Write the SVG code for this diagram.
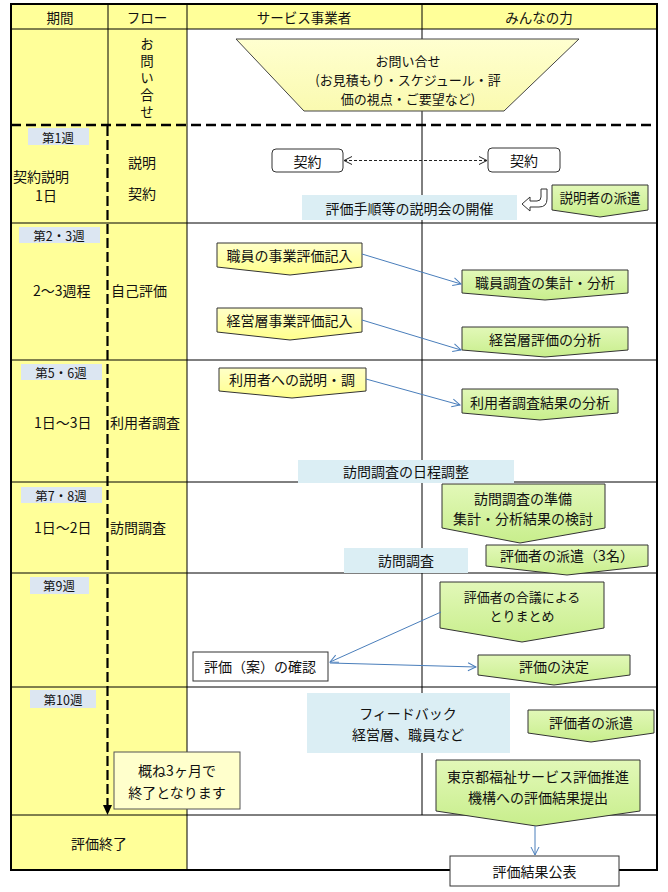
<svg xmlns="http://www.w3.org/2000/svg" width="668" height="892" viewBox="0 0 668 892">
<style>
text{font-family:"Noto Sans CJK JP","Noto Sans",sans-serif;fill:#111;dominant-baseline:central}
.t14{font-size:14px}
.t13{font-size:13.5px}
.t12{font-size:12.5px}
.tm{font-size:13px}
.c{text-anchor:middle}
.grid{stroke:#000;stroke-width:1;fill:none}
.wk{fill:#DCE6F2}
.info{fill:#DBEEF4}
.gp{fill:url(#gg);stroke:#333;stroke-width:1}
.yp{fill:url(#yg);stroke:#333;stroke-width:1}
.wb{fill:#fff;stroke:#333;stroke-width:1}
.conn{stroke:#4A7EBB;stroke-width:1;fill:none}
.vt{writing-mode:vertical-rl;font-size:13.5px;letter-spacing:3.5px}
</style>
<defs>
<linearGradient id="gg" x1="0" y1="0" x2="0" y2="1"><stop offset="0" stop-color="#E2F8B8"/><stop offset="1" stop-color="#C8EE8C"/></linearGradient>
<linearGradient id="yg" x1="0" y1="0" x2="0" y2="1"><stop offset="0" stop-color="#FFFFC8"/><stop offset="1" stop-color="#FFFF8C"/></linearGradient>
<linearGradient id="tg" x1="0" y1="0" x2="0" y2="1"><stop offset="0" stop-color="#FFFFD0"/><stop offset="1" stop-color="#FAFAB0"/></linearGradient>
<marker id="ab" markerWidth="10" markerHeight="10" refX="9" refY="5" orient="auto" markerUnits="userSpaceOnUse"><path d="M1,1 L9,5 L1,9" fill="none" stroke="#4A7EBB" stroke-width="1"/></marker>
<marker id="ak" markerWidth="10" markerHeight="10" refX="9" refY="5" orient="auto-start-reverse" markerUnits="userSpaceOnUse"><path d="M1,1 L9,5 L1,9" fill="none" stroke="#222" stroke-width="1"/></marker>
</defs>

<rect width="668" height="892" fill="#fff"/>

<g id="table">
<rect x="11" y="4" width="646" height="25" fill="#FFFF99"/>
<rect x="11" y="29" width="176" height="841" fill="#FFFF99"/>
<line class="grid" x1="108" y1="4" x2="108" y2="125"/>
<line class="grid" x1="187" y1="4" x2="187" y2="870"/>
<line class="grid" x1="422" y1="4" x2="422" y2="815"/>
<line class="grid" x1="11" y1="29" x2="657" y2="29" stroke-width="1.5"/>
<line x1="11" y1="125" x2="657" y2="125" stroke="#000" stroke-width="2.5" stroke-dasharray="10,5"/>
<line class="grid" x1="11" y1="223" x2="657" y2="223"/>
<line class="grid" x1="11" y1="360" x2="657" y2="360"/>
<line class="grid" x1="11" y1="482" x2="657" y2="482"/>
<line class="grid" x1="11" y1="573" x2="657" y2="573"/>
<line class="grid" x1="11" y1="687" x2="657" y2="687"/>
<line class="grid" x1="11" y1="815" x2="657" y2="815" stroke-width="2"/>
<rect x="11" y="4" width="646" height="866" fill="none" stroke="#000" stroke-width="2"/>
<text class="t13 c" x="60" y="17">期間</text>
<text class="t13 c" x="147" y="17">フロー</text>
<text class="t13 c" x="304" y="17">サービス事業者</text>
<text class="t13 c" x="539" y="17">みんなの力</text>
</g>

<g id="period-labels">
<rect class="wk" x="28" y="128" width="61" height="17"/><text class="t12 c" x="58" y="137">第1週</text>
<rect class="wk" x="19" y="227" width="81" height="16"/><text class="t12 c" x="59" y="235">第2・3週</text>
<rect class="wk" x="21" y="364" width="81" height="16"/><text class="t12 c" x="61" y="372">第5・6週</text>
<rect class="wk" x="21" y="487" width="81" height="16"/><text class="t12 c" x="61" y="495">第7・8週</text>
<rect class="wk" x="30" y="577" width="59" height="17"/><text class="t12 c" x="59" y="585">第9週</text>
<rect class="wk" x="30" y="690" width="66" height="18"/><text class="t12 c" x="63" y="699">第10週</text>
<text class="t14" x="13" y="176">契約説明</text>
<text class="t14 c" x="46" y="195">1日</text>
<text class="t14" x="33" y="290">2～3週程</text>
<text class="t14" x="34" y="422">1日～3日</text>
<text class="t14" x="34" y="527">1日～2日</text>
<text class="t14 c" x="99" y="843">評価終了</text>
</g>

<g id="flow-labels">
<text class="vt" x="147" y="37">お問い合せ</text>
<text class="t14" x="128" y="162">説明</text>
<text class="t14" x="128" y="193">契約</text>
<text class="t14" x="111" y="290">自己評価</text>
<text class="t14" x="110" y="422">利用者調査</text>
<text class="t14" x="110" y="527">訪問調査</text>
</g>

<g id="n-inquiry">
<path d="M236,39 L579,39 L504,111 L304,111 Z" fill="url(#tg)" stroke="#444" stroke-width="1"/>
<text class="tm c"><tspan x="408" y="60">お問い合せ</tspan><tspan x="408" y="79">(お見積もり・スケジュール・評</tspan><tspan x="408" y="98">価の視点・ご要望など)</tspan></text>
</g>

<g id="n-keiyaku1"><rect class="wb" x="272" y="149" width="71" height="23" rx="4"/><text class="t14 c" x="307.5" y="160.5">契約</text></g>
<g id="n-keiyaku2"><rect class="wb" x="488" y="148" width="72" height="24" rx="4"/><text class="t14 c" x="524" y="160">契約</text></g>
<g id="n-setsumeikai"><rect class="info" x="302" y="195" width="215" height="25"/><text class="t14 c" x="409.5" y="207.5">評価手順等の説明会の開催</text></g>
<g id="n-uturn"><path d="M522,204 L530,197 L530,201 L537,201 Q541,201 541,197 L541,189 L547,189 L547,199 Q547,207 539,207 L530,207 L530,211 Z" fill="#fff" stroke="#333" stroke-width="1"/></g>
<g id="n-haken1"><path class="gp" d="M552,185 L648,185 L648,210 L600,217 L552,210 Z"/><text class="t13 c" x="600" y="197">説明者の派遣</text></g>

<g id="n-shokuin-kinyu"><path class="yp" d="M217,243 L362,243 L362,267 L290,275 L217,267 Z"/><text class="t14 c" x="289.5" y="255">職員の事業評価記入</text></g>
<g id="n-keiei-kinyu"><path class="yp" d="M217,308 L362,308 L362,332 L290,340 L217,332 Z"/><text class="t14 c" x="289.5" y="320">経営層事業評価記入</text></g>
<g id="n-shokuin-bunseki"><path class="gp" d="M462,270 L628,270 L628,293 L545,300 L462,293 Z"/><text class="t14 c" x="545" y="282">職員調査の集計・分析</text></g>
<g id="n-keiei-bunseki"><path class="gp" d="M462,327 L628,327 L628,350 L545,357 L462,350 Z"/><text class="t14 c" x="545" y="339">経営層評価の分析</text></g>

<g id="n-riyosha-setsumei"><path class="yp" d="M219,368 L366,368 L366,391 L292,398 L219,391 Z"/><text class="t14 c" x="292" y="379">利用者への説明・調</text></g>
<g id="n-riyosha-bunseki"><path class="gp" d="M462,389 L618,389 L618,413 L540,420 L462,413 Z"/><text class="t14 c" x="540" y="402">利用者調査結果の分析</text></g>
<g id="n-nittei"><rect class="info" x="298" y="460" width="216" height="23"/><text class="t14 c" x="406" y="471">訪問調査の日程調整</text></g>

<g id="n-junbi"><path class="gp" d="M442,484 L605,484 L605,528 L520,543 L442,528 Z"/><text class="t14 c"><tspan x="523" y="498">訪問調査の準備</tspan><tspan x="523" y="518">集計・分析結果の検討</tspan></text></g>
<g id="n-houmon"><rect class="info" x="344" y="548" width="124" height="25"/><text class="t14 c" x="406" y="560">訪問調査</text></g>
<g id="n-haken3"><path class="gp" d="M486,545 L648,545 L648,566 L567,575 L486,566 Z"/><text class="t14 c" x="567" y="555">評価者の派遣（3名）</text></g>

<g id="n-gougi"><path class="gp" d="M440,582 L604,582 L604,628 L522,642 L440,628 Z"/><text class="tm c"><tspan x="522" y="596">評価者の合議による</tspan><tspan x="522" y="615">とりまとめ</tspan></text></g>
<g id="n-kakunin"><rect class="wb" x="193" y="652" width="135" height="29"/><text class="t14 c" x="260" y="666">評価（案）の確認</text></g>
<g id="n-kettei"><path class="gp" d="M478,655 L630,655 L630,675 L554,685 L478,675 Z"/><text class="t14 c" x="554" y="666">評価の決定</text></g>

<g id="n-feedback"><rect class="info" x="307" y="693" width="203" height="60"/><text class="t14 c"><tspan x="408" y="713">フィードバック</tspan><tspan x="408" y="734">経営層、職員など</tspan></text></g>
<g id="n-haken10"><path class="gp" d="M528,710 L654,710 L654,733 L591,742 L528,733 Z"/><text class="t14 c" x="591" y="722">評価者の派遣</text></g>
<g id="n-gaine"><rect x="114" y="752" width="126" height="57" fill="#FFFFCC" stroke="#555" stroke-width="1"/><text class="t14 c"><tspan x="177" y="770">概ね3ヶ月で</tspan><tspan x="177" y="792">終了となります</tspan></text></g>
<g id="n-teishutsu"><path class="gp" d="M436,760 L640,760 L640,811 L536,826 L436,811 Z"/><text class="t14 c"><tspan x="538" y="776">東京都福祉サービス評価推進</tspan><tspan x="538" y="797">機構への評価結果提出</tspan></text></g>
<g id="n-kohyo"><rect class="wb" x="450" y="856" width="169" height="30"/><text class="t14 c" x="534.5" y="871">評価結果公表</text></g>

<g id="connectors">
<line x1="107.5" y1="126" x2="107.5" y2="806" stroke="#000" stroke-width="2.2" stroke-dasharray="10,4"/>
<path d="M103,805 L112,805 L107.5,815 Z" fill="#000"/>
<line x1="344" y1="160.5" x2="487" y2="160.5" stroke="#222" stroke-width="1" stroke-dasharray="3,2" marker-start="url(#ak)" marker-end="url(#ak)"/>
<line class="conn" x1="362" y1="254" x2="461" y2="284" marker-end="url(#ab)"/>
<line class="conn" x1="362" y1="320" x2="461" y2="350" marker-end="url(#ab)"/>
<line class="conn" x1="366" y1="379" x2="460" y2="405" marker-end="url(#ab)"/>
<line class="conn" x1="441" y1="612" x2="330" y2="662" marker-end="url(#ab)"/>
<line class="conn" x1="330" y1="663" x2="476" y2="667" marker-end="url(#ab)"/>
<line class="conn" x1="535" y1="826" x2="535" y2="855" marker-end="url(#ab)"/>
</g>
</svg>
